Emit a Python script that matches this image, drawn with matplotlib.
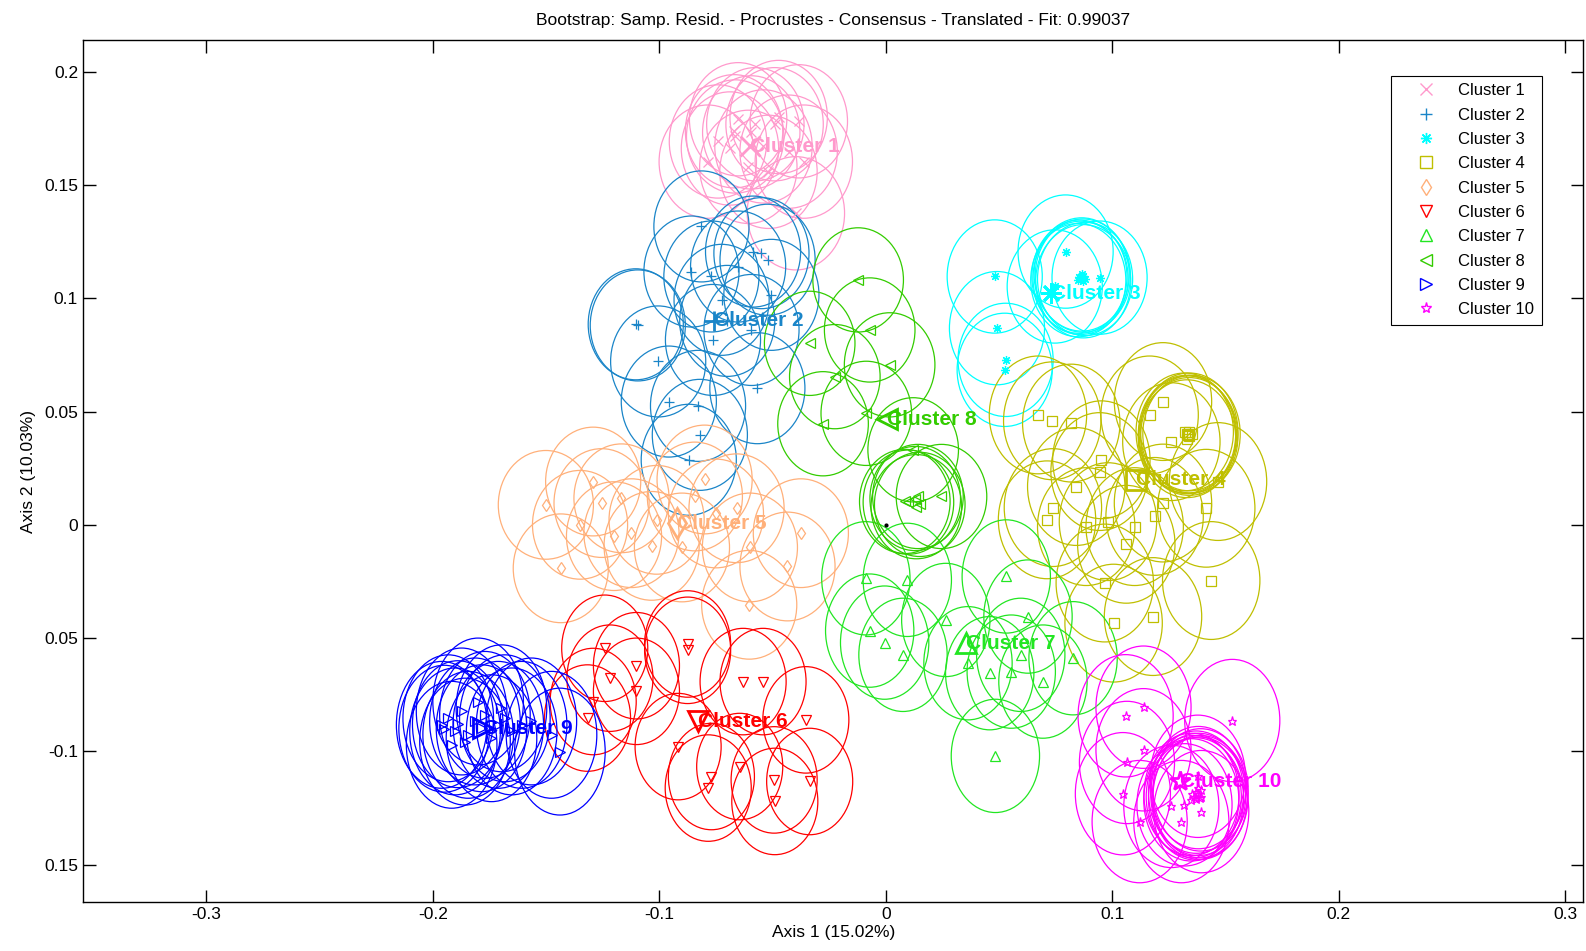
import matplotlib
matplotlib.use("Agg")
import matplotlib.pyplot as plt
from matplotlib.patches import Ellipse
from matplotlib.lines import Line2D

# bootstrap replicate positions per cluster (Axis 1, Axis 2)
c1_x = [-0.0576, -0.0491, -0.0670, -0.0665, -0.0594, -0.0688, -0.0397, -0.0786, -0.0384,
        -0.0429, -0.0518, -0.0607, -0.0741, -0.0540, -0.0652, -0.0362, -0.0473]
c1_y = [0.1768, 0.1768, 0.1737, 0.1714, 0.1732, 0.1661, 0.1375, 0.1603, 0.1781,
        0.1647, 0.1558, 0.1580, 0.1692, 0.1670, 0.1790, 0.1603, 0.1800]

c2_x = [-0.0858, -0.0770, -0.0652, -0.0586, -0.0549, -0.0522, -0.0725, -0.0505, -0.1104, -0.1095,
        -0.0593, -0.0763, -0.1005, -0.0567, -0.0958, -0.0829, -0.0821, -0.0870, -0.0814, -0.0700]
c2_y = [0.1118, 0.1096, 0.1140, 0.1206, 0.1199, 0.1170, 0.0993, 0.1015, 0.0885, 0.0880,
        0.0860, 0.0816, 0.0721, 0.0603, 0.0544, 0.0525, 0.0397, 0.0287, 0.1317, 0.0900]

c3_x = [0.0794, 0.0481, 0.0944, 0.0746, 0.0491, 0.0529, 0.0525, 0.0860, 0.0870, 0.0850,
        0.0880, 0.0865, 0.0872, 0.0855]
c3_y = [0.1206, 0.1096, 0.1091, 0.1052, 0.0868, 0.0728, 0.0684, 0.1090, 0.1100, 0.1080,
        0.1085, 0.1105, 0.1075, 0.1095]

c4_x = [0.0672, 0.0735, 0.0819, 0.0952, 0.0944, 0.0841, 0.0738, 0.0712, 0.0885, 0.0981,
        0.1062, 0.1099, 0.1187, 0.1224, 0.1224, 0.1165, 0.1261, 0.1415, 0.1467, 0.1437,
        0.0967, 0.1006, 0.1180, 0.1334, 0.1330, 0.1340, 0.1320, 0.1350, 0.1330, 0.1340]
c4_y = [0.0485, 0.0459, 0.0449, 0.0287, 0.0235, 0.0169, 0.0076, 0.0022, -0.0008, 0.0014,
        -0.0086, -0.0008, 0.0037, 0.0096, 0.0544, 0.0485, 0.0367, 0.0073, 0.0191, -0.0246,
        -0.0257, -0.0434, -0.0405, 0.0397, 0.0400, 0.0390, 0.0410, 0.0400, 0.0380, 0.0410]

c5_x = [-0.1501, -0.1292, -0.1255, -0.1167, -0.1123, -0.1034, -0.1012, -0.1435, -0.0375,
        -0.0434, -0.0603, -0.0659, -0.0843, -0.0750, -0.0900, -0.1200, -0.0800, -0.1350, -0.0600]
c5_y = [0.0088, 0.0191, 0.0096, 0.0117, -0.0037, -0.0093, 0.0022, -0.0192, -0.0037,
        -0.0184, -0.0353, 0.0073, 0.0125, 0.0050, -0.0100, -0.0050, 0.0200, 0.0000, -0.0100]

c6_x = [-0.1241, -0.1101, -0.1218, -0.1101, -0.0875, -0.0875, -0.1292, -0.1317, -0.0630, -0.0542,
        -0.0353, -0.0917, -0.0770, -0.0784, -0.0645, -0.0493, -0.0336, -0.0490]
c6_y = [-0.0545, -0.0622, -0.0677, -0.0735, -0.0526, -0.0554, -0.0780, -0.0853, -0.0692, -0.0692,
        -0.0861, -0.0979, -0.1111, -0.1162, -0.1067, -0.1126, -0.1133, -0.1221]

c7_x = [-0.0088, 0.0095, -0.0071, -0.0005, 0.0076, 0.0265, 0.0363, 0.0459, 0.0532, 0.0628,
        0.0596, 0.0554, 0.0694, 0.0827, 0.0484]
c7_y = [-0.0236, -0.0243, -0.0467, -0.0520, -0.0574, -0.0420, -0.0611, -0.0655, -0.0228, -0.0405,
        -0.0574, -0.0648, -0.0692, -0.0589, -0.1020]

c8_x = [-0.0122, -0.0071, -0.0336, 0.0017, -0.0225, -0.0086, -0.0277, 0.0121, 0.0084, 0.0142,
        0.0246, 0.0135, 0.0130, 0.0100, 0.0150]
c8_y = [0.1081, 0.0860, 0.0801, 0.0706, 0.0654, 0.0492, 0.0446, 0.0331, 0.0103, 0.0125,
        0.0125, 0.0080, 0.0116, 0.0100, 0.0090]

c9_x = [-0.1961, -0.1932, -0.1902, -0.1873, -0.1844, -0.1814, -0.1785, -0.1770, -0.1741, -0.1711,
        -0.1682, -0.1652, -0.1608, -0.1565, -0.1476, -0.1439, -0.1858, -0.1917, -0.1800, -0.1697,
        -0.1950, -0.1890]
c9_y = [-0.0883, -0.0854, -0.0912, -0.0824, -0.0927, -0.0868, -0.0898, -0.0839, -0.0942, -0.0883,
        -0.0854, -0.0912, -0.0883, -0.0868, -0.0927, -0.1001, -0.0957, -0.0971, -0.0780, -0.0810,
        -0.0900, -0.0880]

c10_x = [0.1059, 0.1138, 0.1138, 0.1065, 0.1047, 0.1121, 0.1305, 0.1261, 0.1378, 0.1393,
         0.1349, 0.1319, 0.1386, 0.1530, 0.1370, 0.1380, 0.1360, 0.1390, 0.1370, 0.1380,
         0.1350, 0.1390]
c10_y = [-0.0843, -0.0805, -0.0993, -0.1049, -0.1187, -0.1310, -0.1310, -0.1243, -0.1110, -0.1266,
         -0.1214, -0.1236, -0.1207, -0.0864, -0.1180, -0.1190, -0.1200, -0.1170, -0.1210, -0.1160,
         -0.1190, -0.1200]

# consensus positions
cons_x = [-0.0598, -0.0760, 0.0731, 0.1106, -0.0924, -0.0829, 0.0356, 0.0004, -0.1777, 0.1297]
cons_y = [0.1670, 0.0900, 0.1022, 0.0198, 0.0007, -0.0868, -0.0522, 0.0466, -0.0897, -0.1133]

names = ["Cluster 1", "Cluster 2", "Cluster 3", "Cluster 4", "Cluster 5",
         "Cluster 6", "Cluster 7", "Cluster 8", "Cluster 9", "Cluster 10"]
xs = [c1_x, c2_x, c3_x, c4_x, c5_x, c6_x, c7_x, c8_x, c9_x, c10_x]
ys = [c1_y, c2_y, c3_y, c4_y, c5_y, c6_y, c7_y, c8_y, c9_y, c10_y]

colors = ["#FF99CC", "#1A85C8", "#00FFFF", "#BFBF00", "#FFB07A",
          "#FF0000", "#22E622", "#33CC00", "#0000FF", "#FF00FF"]
markers = ["x", "+", (8, 2, 0), "s", "d", "v", "^", "<", ">", "*"]
# ellipse width / height per cluster
sizes = [(0.043, 0.050), (0.042, 0.049), (0.042, 0.050), (0.043, 0.052), (0.042, 0.048),
         (0.038, 0.047), (0.039, 0.050), (0.040, 0.046), (0.040, 0.056), (0.042, 0.054)]

plt.rcParams["font.family"] = ["Liberation Sans", "DejaVu Sans"]

fig = plt.figure(figsize=(15.86, 9.51), dpi=100)
ax = fig.add_axes([0.0523, 0.0515, 0.9460, 0.9060])

for i in range(len(names)):
    w, h = sizes[i]
    for x, y in zip(xs[i], ys[i]):
        ax.add_patch(Ellipse((x, y), w, h, fill=False, ec=colors[i], lw=0.9))
    ax.plot(xs[i], ys[i], ls="none", marker=markers[i], mfc="none", mec=colors[i], ms=6.5, mew=0.9)
    ax.plot(cons_x[i], cons_y[i], ls="none", marker=markers[i], mfc="none", mec=colors[i], ms=15, mew=2)
    ax.text(cons_x[i], cons_y[i], names[i], color=colors[i], fontsize=15, fontweight="bold",
            ha="left", va="center")

ax.plot(0, 0, "k.", ms=4)

ax.set_xlim(-0.3545, 0.308)
ax.set_ylim(-0.1665, 0.2138)
ax.set_xticks([-0.3, -0.2, -0.1, 0, 0.1, 0.2, 0.3])
ax.set_xticklabels(["-0.3", "-0.2", "-0.1", "0", "0.1", "0.2", "0.3"])
ax.set_yticks([-0.15, -0.1, -0.05, 0, 0.05, 0.1, 0.15, 0.2])
ax.set_yticklabels(["0.15", "-0.1", "0.05", "0", "0.05", "0.1", "0.15", "0.2"])
ax.tick_params(direction="in", top=True, right=True, length=9, width=1, labelsize=12.5)
for s in ax.spines.values():
    s.set_linewidth(1)

ax.set_xlabel("Axis 1 (15.02%)", fontsize=12.5, labelpad=2)
ax.set_ylabel("Axis 2 (10.03%)", fontsize=12.5, labelpad=6)
ax.set_title("Bootstrap: Samp. Resid. - Procrustes - Consensus - Translated - Fit: 0.99037",
             fontsize=12.5, pad=11)

handles = [Line2D([], [], ls="none", marker=markers[i], mfc="none", mec=colors[i], ms=8, mew=1)
           for i in range(len(names))]
leg = ax.legend(handles, names, loc="upper right", bbox_to_anchor=(0.9724, 0.959),
                borderaxespad=0, fontsize=12, labelspacing=0.56, handlelength=3.3,
                handletextpad=0.3, fancybox=False, edgecolor="black", framealpha=1,
                borderpad=0.45)
leg.get_frame().set_linewidth(0.8)

fig.savefig("out.png", dpi=100)
